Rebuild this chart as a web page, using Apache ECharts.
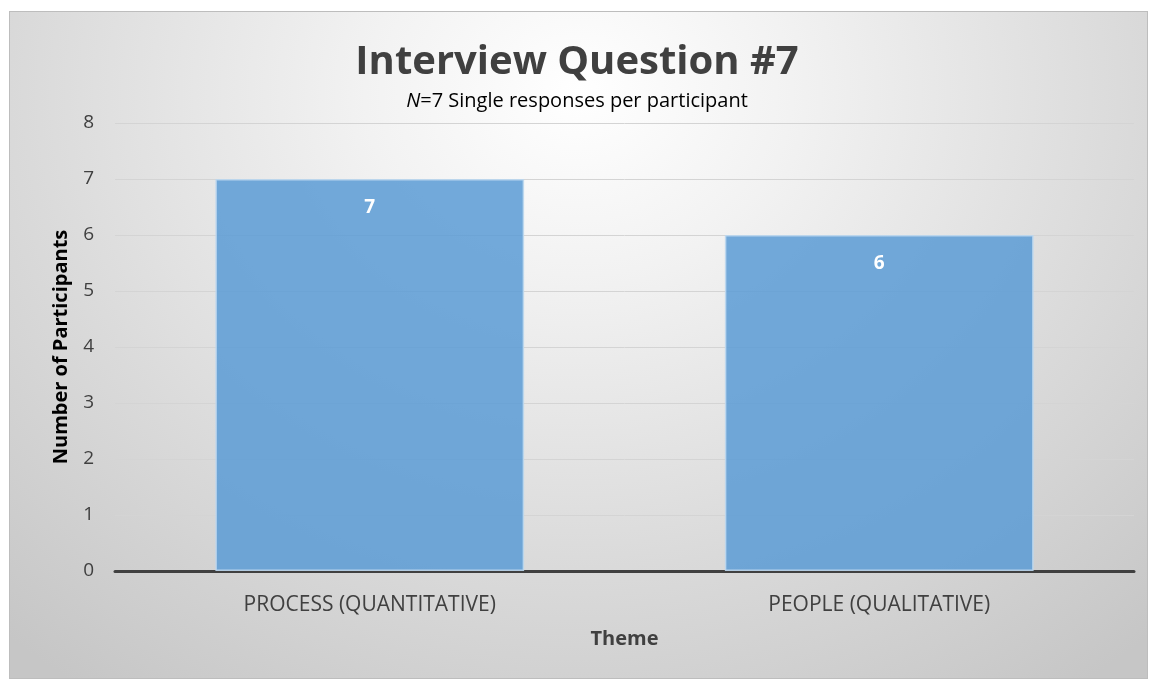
<!DOCTYPE html>
<html>
<head>
<meta charset="utf-8">
<script src="https://cdn.jsdelivr.net/npm/echarts@6/dist/echarts.min.js"></script>
<style>
  html, body { margin: 0; padding: 0; background: #ffffff; }
  #frame {
    position: absolute; left: 9px; top: 11px; width: 1137px; height: 666px;
    border: 1px solid #bdbdbd;
    background: radial-gradient(ellipse 75% 110% at 50% 12%, #ffffff 0%, #f2f2f2 25%, #dadada 65%, #c6c6c6 100%);
  }
  #chart { position: absolute; left: 0; top: 0; width: 1154px; height: 679px; }
</style>
</head>
<body>
<div id="frame"></div>
<div id="chart"></div>
<script>
  const categories = ['PROCESS (QUANTITATIVE)', 'PEOPLE (QUALITATIVE)']
  const participants = [7, 6]
  const yTicks = { min: 0, max: 8, interval: 1 }

  const font = '"Open Sans", "Lato", sans-serif'
  const chart = echarts.init(document.getElementById('chart'))

  chart.setOption({
    backgroundColor: 'transparent',
    title: {
      text: 'Interview Question #7',
      subtext: '{i|N}=7 Single responses per participant',
      left: 'center',
      top: 38,
      itemGap: 8,
      textStyle: {
        fontFamily: font,
        fontSize: 40,
        fontWeight: 'bold',
        color: '#404040',
      },
      subtextStyle: {
        fontFamily: font,
        fontSize: 20,
        color: '#000000',
        rich: {
          i: { fontFamily: font, fontSize: 20, fontStyle: 'italic', color: '#000000' },
        },
      },
    },
    grid: { left: 115, right: 20, top: 123, bottom: 108 },
    xAxis: {
      type: 'category',
      data: categories,
      name: 'Theme',
      nameLocation: 'center',
      nameGap: 58,
      nameTextStyle: { fontFamily: font, fontSize: 20, fontWeight: 'bold', color: '#404040' },
      axisLine: { lineStyle: { color: '#404040', width: 3 } },
      axisTick: { show: false },
      axisLabel: { fontFamily: font, fontSize: 21, color: '#404040', margin: 24 },
    },
    yAxis: {
      type: 'value',
      min: yTicks.min,
      max: yTicks.max,
      interval: yTicks.interval,
      name: 'Number of Participants',
      nameLocation: 'center',
      nameRotate: 90,
      nameGap: 44,
      nameTextStyle: { fontFamily: font, fontSize: 20, fontWeight: 'bold', color: '#000000' },
      axisLine: { show: false },
      axisTick: { show: false },
      axisLabel: { fontFamily: font, fontSize: 19, color: '#404040', margin: 21 },
      splitLine: { lineStyle: { color: '#d4d4d4', width: 1 } },
    },
    series: [
      {
        type: 'bar',
        data: participants,
        barWidth: '60.6%',
        itemStyle: {
          color: 'rgba(91, 155, 213, 0.85)',
          borderColor: 'rgba(189, 215, 238, 0.9)',
          borderWidth: 1.5,
        },
        label: {
          show: true,
          position: 'insideTop',
          distance: 19,
          fontFamily: font,
          fontSize: 19,
          fontWeight: 'bold',
          color: '#ffffff',
        },
      },
    ],
  })
</script>
</body>
</html>
